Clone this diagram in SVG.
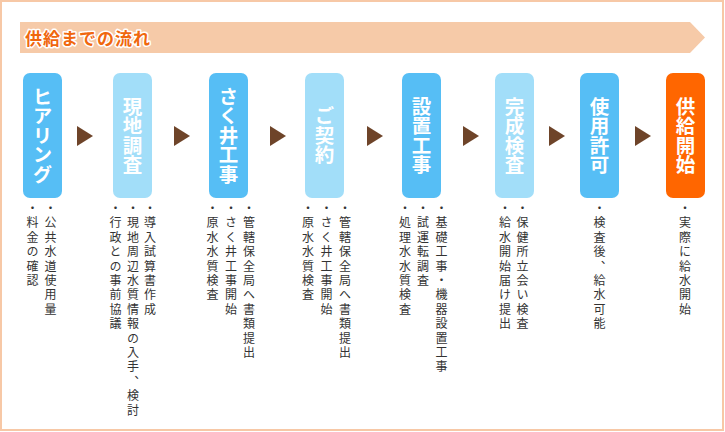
<svg xmlns="http://www.w3.org/2000/svg" width="725" height="432" viewBox="0 0 725 432">
<style>
.frame{fill:#ffffff;stroke:#F7C8A6;stroke-width:2}
.banner{fill:#F6CAA8}
.title{font-family:"Noto Sans CJK JP","Noto Sans",sans-serif;font-weight:bold;font-size:17px;letter-spacing:1px;fill:#F0670E;stroke:#ffffff;stroke-width:3px;stroke-linejoin:round;paint-order:stroke}
.box{rx:7;ry:7}
.dark{fill:#56BEF5}
.light{fill:#A2DEF9}
.orange{fill:#FF6600}
.label{font-family:"Noto Sans CJK JP","Noto Sans",sans-serif;font-weight:bold;font-size:19.5px;fill:#ffffff;writing-mode:vertical-rl;text-anchor:middle}
.desc{font-family:"Noto Sans CJK JP","Noto Sans",sans-serif;font-size:12px;letter-spacing:2.4px;fill:#333333;writing-mode:vertical-rl;text-anchor:start}
.arrow{fill:#6E4429}
</style>
<rect class="frame" x="1" y="1" width="722" height="429"/>
<g id="banner">
<polygon class="banner" points="20,22 690,22 705,37.5 690,53 20,53"/>
<text class="title" x="25" y="44.5">供給までの流れ</text>
</g>
<g id="connectors">
<polygon class="arrow" points="77,126 93,136 77,146"/>
<polygon class="arrow" points="174,126 190,136 174,146"/>
<polygon class="arrow" points="270,126 286,136 270,146"/>
<polygon class="arrow" points="367,126 383,136 367,146"/>
<polygon class="arrow" points="463,126 479,136 463,146"/>
<polygon class="arrow" points="549,126 565,136 549,146"/>
<polygon class="arrow" points="635,126 651,136 635,146"/>
</g>
<g id="node-hearing">
<rect class="box dark" x="23" y="73" width="39" height="125"/>
<text class="label" x="42.5" y="135.5">ヒアリング</text>
<text class="desc" x="50.5" y="202.5">・公共水道使用量</text>
<text class="desc" x="32.5" y="202.5">・料金の確認</text>
</g>
<g id="node-survey">
<rect class="box light" x="113" y="73" width="39" height="125"/>
<text class="label" x="132.5" y="135.5">現地調査</text>
<text class="desc" x="150" y="202.5">・導入試算書作成</text>
<text class="desc" x="133" y="202.5">・現地周辺水質情報の入手、検討</text>
<text class="desc" x="115.5" y="202.5">・行政との事前協議</text>
</g>
<g id="node-well">
<rect class="box dark" x="209" y="73" width="39" height="125"/>
<text class="label" x="228.5" y="135.5">さく井工事</text>
<text class="desc" x="249" y="202.5">・管轄保全局へ書類提出</text>
<text class="desc" x="231" y="202.5">・さく井工事開始</text>
<text class="desc" x="212.5" y="202.5">・原水水質検査</text>
</g>
<g id="node-contract">
<rect class="box light" x="305" y="73" width="39" height="125"/>
<text class="label" x="324.5" y="135.5">ご契約</text>
<text class="desc" x="345" y="202.5">・管轄保全局へ書類提出</text>
<text class="desc" x="326.5" y="202.5">・さく井工事開始</text>
<text class="desc" x="308" y="202.5">・原水水質検査</text>
</g>
<g id="node-install">
<rect class="box dark" x="402" y="73" width="39" height="125"/>
<text class="label" x="421.5" y="135.5">設置工事</text>
<text class="desc" x="441.5" y="202.5">・基礎工事・機器設置工事</text>
<text class="desc" x="423" y="202.5">・試運転調査</text>
<text class="desc" x="405" y="202.5">・処理水水質検査</text>
</g>
<g id="node-inspection">
<rect class="box light" x="495" y="73" width="39" height="125"/>
<text class="label" x="514.5" y="135.5">完成検査</text>
<text class="desc" x="522.5" y="202.5">・保健所立会い検査</text>
<text class="desc" x="505" y="202.5">・給水開始届け提出</text>
</g>
<g id="node-permit">
<rect class="box dark" x="580" y="73" width="39" height="125"/>
<text class="label" x="599.5" y="135.5">使用許可</text>
<text class="desc" x="599.5" y="202.5">・検査後、給水可能</text>
</g>
<g id="node-start">
<rect class="box orange" x="666" y="73" width="39" height="125"/>
<text class="label" x="685.5" y="135.5">供給開始</text>
<text class="desc" x="685" y="202.5">・実際に給水開始</text>
</g>
</svg>
